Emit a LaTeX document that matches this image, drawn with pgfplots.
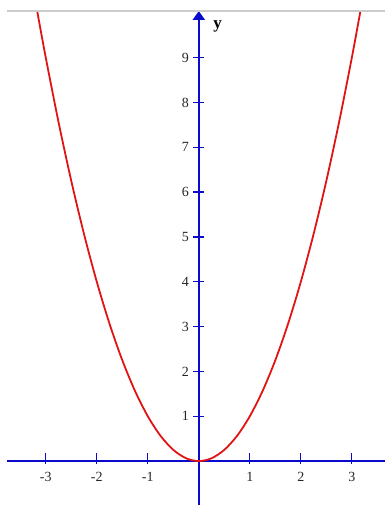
\documentclass[border=0pt]{standalone}
\usepackage{fontspec}
\setmainfont{Liberation Serif}
\usepackage{pgfplots}
\pgfplotsset{compat=1.18}
\usetikzlibrary{arrows.meta}
\definecolor{axblue}{RGB}{10,10,205}
\definecolor{curvered}{RGB}{225,20,20}

\begin{document}
\begin{tikzpicture}
\begin{axis}[
  scale only axis, width=378pt, height=494pt,
  xmin=-3.76, xmax=3.65, ymin=-0.98, ymax=10.04,
  axis lines=middle,
  axis line style={axblue, line width=2.6pt},
  x axis line style={-},
  y axis line style={-{Triangle[width=12pt,length=9pt]}},
  xtick={-3,-2,-1,1,2,3},
  xticklabels={-3,-2,-1,1,2,3},
  ytick={1,2,3,4,5,6,7,8,9},
  yticklabels={1,2,3,4,5,6,7,8,9},
  tick style={axblue, line width=1.3pt},
  xtick style={yshift=3pt},
  major tick length=11pt,
  tick align=center,
  ticklabel style={font=\fontsize{14}{16}\selectfont, text=black!85},
  xticklabel style={yshift=-2pt},
  yticklabel style={xshift=-1pt},
]
\addplot[curvered, line width=1.8pt, smooth] coordinates {
  (-3.17,10.05)(-3.0,9.0)(-2.75,7.5625)(-2.5,6.25)(-2.25,5.0625)
  (-2.0,4.0)(-1.75,3.0625)(-1.5,2.25)(-1.25,1.5625)(-1.0,1.0)
  (-0.75,0.5625)(-0.5,0.25)(-0.25,0.0625)(0,0)
  (0.25,0.0625)(0.5,0.25)(0.75,0.5625)(1.0,1.0)(1.25,1.5625)
  (1.5,2.25)(1.75,3.0625)(2.0,4.0)(2.25,5.0625)(2.5,6.25)
  (2.75,7.5625)(3.0,9.0)(3.17,10.05)
};
\node[font=\bfseries\fontsize{17}{19}\selectfont] at (axis cs:0.37,9.7) {y};
\coordinate (bl) at (rel axis cs:0,0);
\coordinate (tl) at (rel axis cs:0,1);
\coordinate (tr) at (rel axis cs:1,1);
\end{axis}
\draw[black!20, line width=1.2pt] (tl) -- (tr);
\pgfresetboundingbox
\path[use as bounding box] ([xshift=-7pt]bl) rectangle ([yshift=11pt]tr);
\end{tikzpicture}
\end{document}
